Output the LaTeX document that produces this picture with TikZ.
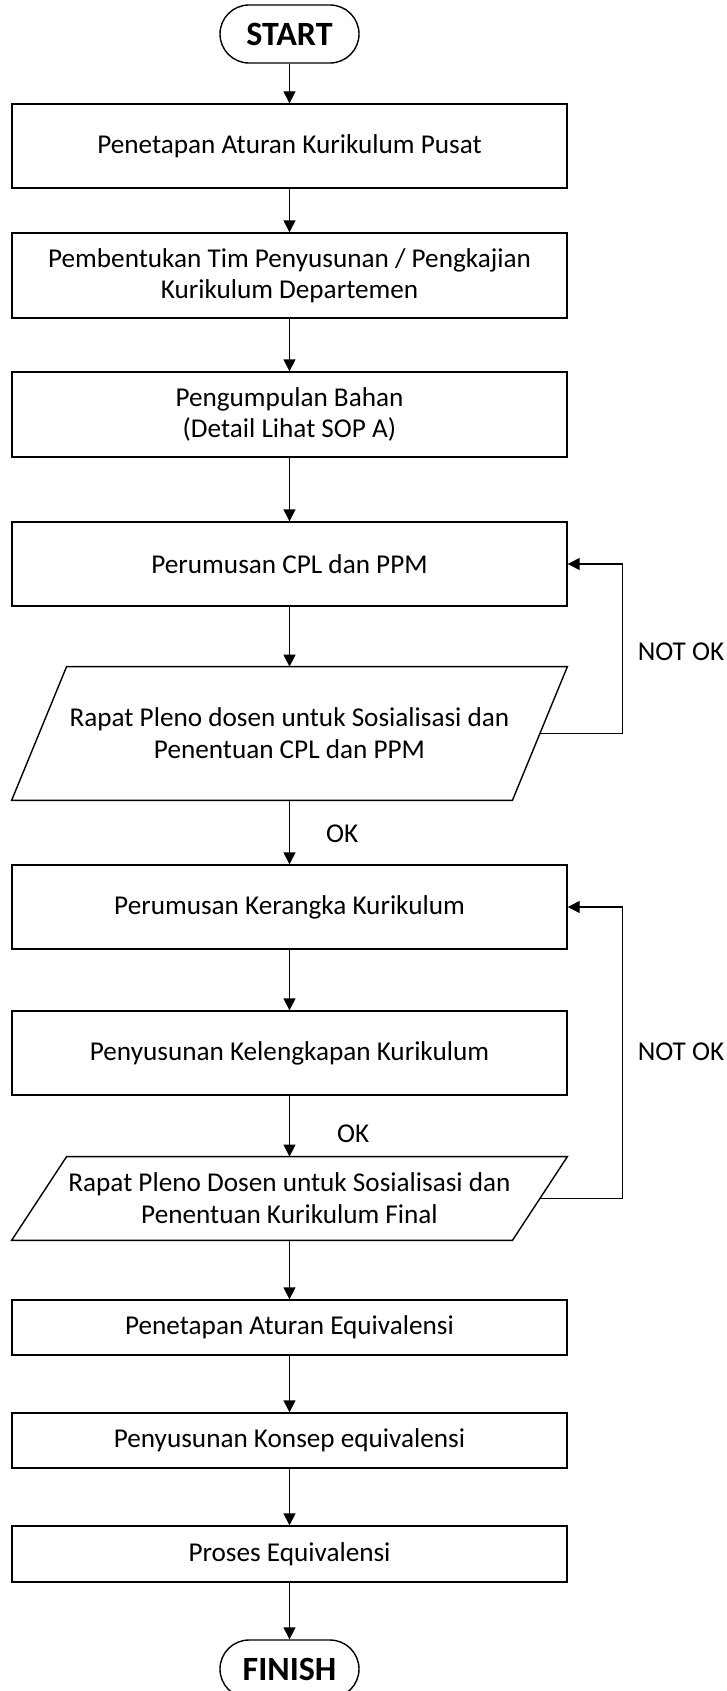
\documentclass[tikz,border=0pt]{standalone}
\usepackage{fontspec}
\setmainfont{Carlito}
\usetikzlibrary{arrows.meta}
\usetikzlibrary{calc}
\tikzstyle{process}=[rectangle,draw,line width=0.7pt,minimum width=277.5pt,inner sep=0pt,align=center,font=\fontsize{13.6}{15.5}\selectfont]
\tikzstyle{io}=[rectangle,minimum width=277.5pt,inner sep=0pt,align=center,font=\fontsize{13.6}{16}\selectfont]
\tikzstyle{terminal}=[rectangle,draw,line width=0.7pt,rounded corners=14.5pt,minimum width=69.5pt,minimum height=29pt,inner sep=0pt,font=\fontsize{17}{20}\selectfont\bfseries]
\tikzstyle{edge}=[draw,line width=0.7pt,-{Triangle[length=6pt,width=6pt]}]
\tikzstyle{note}=[font=\fontsize{13.6}{15.5}\selectfont]

\begin{document}
\begin{tikzpicture}[x=0.5pt,y=-0.5pt]

  \useasboundingbox (0,0) rectangle (727,1691);

  \def\cx{289.5};
  \def\sl{55};

  \node[terminal] (start) at (\cx,34) {START};
  \node[terminal] (finish) at (\cx,1669) {FINISH};

  \foreach \y/\h/\name/\label in {146/84/b1/{Penetapan Aturan Kurikulum Pusat},
      275.5/85/b2/{Pembentukan Tim Penyusunan / Pengkajian\\Kurikulum Departemen},
      414.5/85/b3/{Pengumpulan Bahan\\(Detail Lihat SOP A)},
      564/84/b4/{Perumusan CPL dan PPM},
      907/84/b5/{Perumusan Kerangka Kurikulum},
      1053/84/b6/{Penyusunan Kelengkapan Kurikulum},
      1327.5/55/b7/{Penetapan Aturan Equivalensi},
      1440.5/55/b8/{Penyusunan Konsep equivalensi},
      1554/56/b9/{Proses Equivalensi}}
    \node[process, minimum height=\h*0.5pt] (\name) at (\cx,\y) {\label};

  \foreach \y/\h/\name/\label in {733.5/133/p1/{Rapat Pleno dosen untuk Sosialisasi dan\\Penentuan CPL dan PPM},
      1198.5/83/p2/{Rapat Pleno Dosen untuk Sosialisasi dan\\Penentuan Kurikulum Final}}
  {
    \node[io, minimum height=\h*0.5pt] (\name) at (\cx,\y) {\label};
    \draw[line width=0.7pt] ($(\name.north west)+(\sl,0)$) -- (\name.north east)
      -- ($(\name.south east)-(\sl,0)$) -- (\name.south west) -- cycle;
  }

  \foreach \source/\dest in {start/b1, b1/b2, b2/b3, b3/b4, b4/p1, p1/b5, b5/b6,
      b6/p2, p2/b7, b7/b8, b8/b9, b9/finish}
    \draw[edge] (\source) -- (\dest);

  % NOT OK loops
  \draw[edge] ($(p1.east)-(\sl/2,0)$) -- ++(82.5,0) |- (b4.east);
  \draw[edge] ($(p2.east)-(\sl/2,0)$) -- ++(82.5,0) |- (b5.east);

  \node[note] (nok1) at (681,652) {NOT OK};
  \node[note] (nok2) at (681,1052) {NOT OK};
  \node[note,anchor=west] (ok1) at (319,834) {OK};
  \node[note,anchor=west] (ok2) at (330,1134) {OK};

\end{tikzpicture}
\end{document}
